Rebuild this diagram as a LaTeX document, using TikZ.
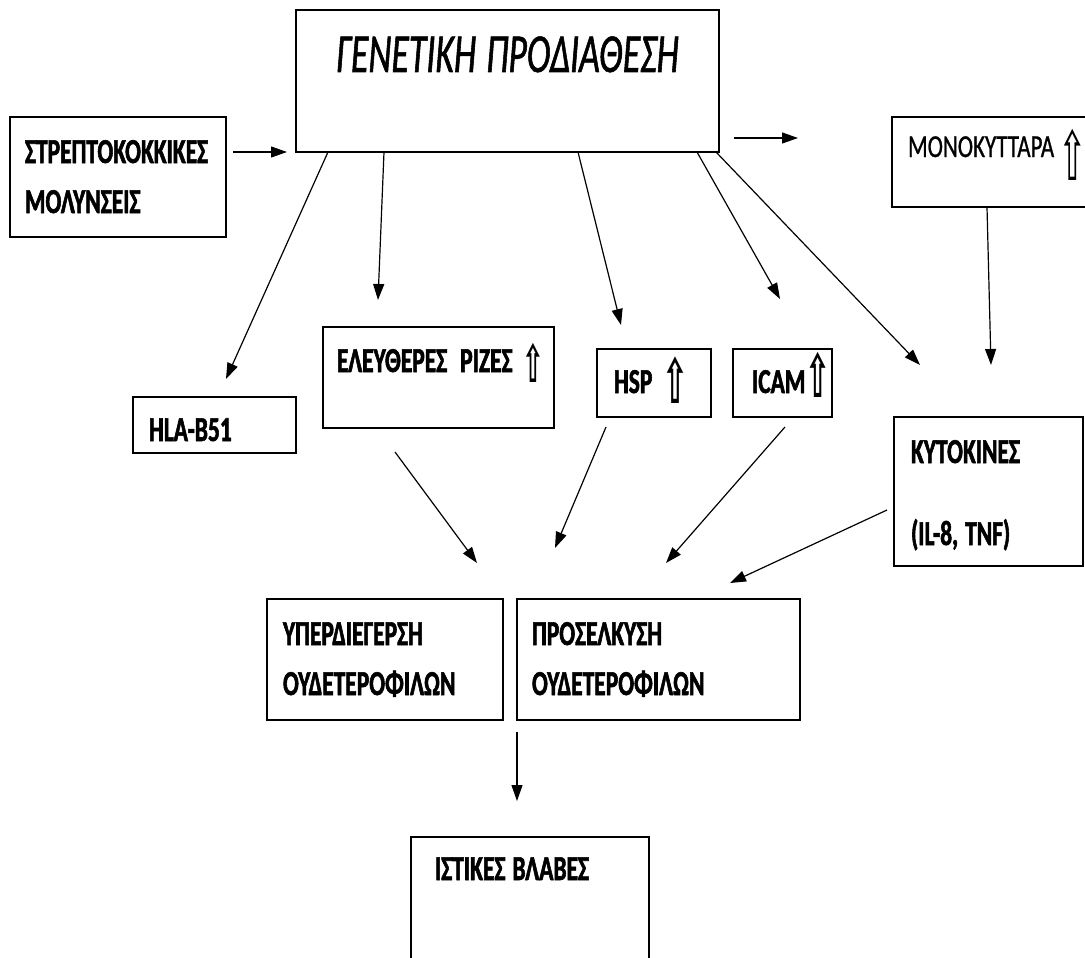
\documentclass[tikz,border=0pt]{standalone}
\usepackage{fontspec}
\usetikzlibrary{positioning, arrows.meta, calc}
\newfontfamily\boxfont{Carlito}[FakeStretch=0.67, FakeBold=1.6]
\newfontfamily\plainfont{Carlito}[FakeStretch=0.72, FakeBold=0.8]
\newfontfamily\titlefont{Carlito}[FakeStretch=0.65, FakeBold=1.0]
\newfontfamily\uparrowfont{DejaVu Sans}[FakeStretch=0.5]
\newcommand{\upar}[2]{\raisebox{#2}{\uparrowfont\fontsize{#1}{#1}\selectfont ⇧}}
\newcommand{\wordgap}[1]{\spaceskip=#1\relax}

\begin{document}
\begin{tikzpicture}[x=1pt, y=-1pt,
    box/.style={draw, line width=1.4pt, anchor=north west, align=flush left,
      inner xsep=15pt, inner ysep=0pt, outer sep=0pt,
      font=\boxfont\bfseries\fontsize{35pt}{50pt}\selectfont\wordgap{7pt}},
    arr/.style={line width=1.2pt, -{Triangle[length=16pt, width=11pt]}},
  ]
  \useasboundingbox (0,0) rectangle (1085,958);

  % top row
  \node[box, align=flush center, inner xsep=0pt, text width=423pt, text height=62pt, text depth=80pt,
        font=\titlefont\itshape\fontsize{55pt}{60pt}\selectfont\wordgap{10pt}] (gen) at (296,10)
       {ΓΕΝΕΤΙΚΗ ΠΡΟΔΙΑΘΕΣΗ};
  \node[box, text width=186pt, text height=46pt, text depth=74pt] (strep) at (10,117)
       {ΣΤΡΕΠΤΟΚΟΚΚΙΚΕΣ\\ΜΟΛΥΝΣΕΙΣ};
  \node[box, inner xsep=16pt, text width=176pt, text height=40pt, text depth=50pt,
        font=\plainfont\fontsize{32pt}{40pt}\selectfont] (monok) at (892,117)
       {ΜΟΝΟΚΥΤΤΑΡΑ\hspace*{4pt}\upar{68pt}{-24pt}};

  % middle row
  \node[box, inner xsep=16pt, text width=131pt, text height=44pt, text depth=12pt] (hla) at (133,397)
       {HLA-B51};
  \node[box, inner xsep=14pt, text width=203pt, text height=45pt, text depth=56pt] (eleft) at (323,327)
       {ΕΛΕΥΘΕΡΕΣ\hspace*{13pt}ΡΙΖΕΣ\hspace*{10pt}\upar{52pt}{-10pt}};
  \node[box, inner xsep=17pt, text width=80pt, text height=44pt, text depth=24pt] (hsp) at (597,349)
       {HSP\hspace*{10pt}\upar{62pt}{-10pt}};
  \node[box, inner xsep=19pt, text width=61pt, text height=44pt, text depth=24pt] (icam) at (733,349)
       {ICAM\upar{60pt}{-4pt}};
  \node[box, inner xsep=17pt, text width=155pt, text height=46pt, text depth=103pt] (kyt) at (894,417)
       {ΚΥΤΟΚΙΝΕΣ\\[32pt](IL-8, TNF)};

  % bottom rows
  \node[box, inner xsep=16pt, text width=204pt, text height=46pt, text depth=75pt] (yperd) at (267,599)
       {ΥΠΕΡΔΙΕΓΕΡΣΗ\\ΟΥΔΕΤΕΡΟΦΙΛΩΝ};
  \node[box, text width=253pt, text height=46pt, text depth=75pt] (prosel) at (517,599)
       {ΠΡΟΣΕΛΚΥΣΗ\\ΟΥΔΕΤΕΡΟΦΙΛΩΝ};
  \node[box, inner xsep=24pt, text width=190pt, text height=43pt, text depth=150pt] (ist) at (411,837)
       {ΙΣΤΙΚΕΣ ΒΛΑΒΕΣ};

  % arrow tips
  \coordinate (tGen)  at ([shift={(-9,0)}]gen.south west);
  \coordinate (tFree) at ([shift={(79,-14)}]gen.south east);
  \coordinate (tHla)  at ([shift={(93,-18)}]hla.north west);
  \coordinate (tEleft) at ([shift={(55,-27)}]eleft.north west);
  \coordinate (tHsp)  at ([shift={(24,-24)}]hsp.north west);
  \coordinate (tIcam) at ([shift={(47,-50)}]icam.north west);
  \coordinate (tKytA) at ([shift={(26,-52)}]kyt.north west);
  \coordinate (tKytB) at ([shift={(97,-52)}]kyt.north west);
  \coordinate (tYperd) at ([shift={(210,-36)}]yperd.north west);
  \coordinate (tProsA) at ([shift={(38,-51)}]prosel.north west);
  \coordinate (tProsB) at ([shift={(149,-36)}]prosel.north west);
  \coordinate (tProsC) at ([shift={(213,-16)}]prosel.north west);
  \coordinate (tIst)  at ([shift={(106,-36)}]ist.north west);

  % connectors
  \draw[arr] ([shift={(7,-25)}]strep.east) -- (tGen);
  \draw[arr] ([shift={(15,-14)}]gen.south east) -- (tFree);
  \draw[arr] ([xshift=32pt]gen.south west) -- (tHla);
  \draw[arr] ([xshift=88pt]gen.south west) -- (tEleft);
  \draw[arr] ([xshift=282pt]gen.south west) -- (tHsp);
  \draw[arr] ([xshift=401pt]gen.south west) -- (tIcam);
  \draw[arr] ([xshift=-3pt]gen.south east) -- (tKytA);
  \draw[arr] ([xshift=95pt]monok.south west) -- (tKytB);
  \draw[arr] ([shift={(72,24)}]eleft.south west) -- (tYperd);
  \draw[arr] ([shift={(9,10)}]hsp.south west) -- (tProsA);
  \draw[arr] ([shift={(52,10)}]icam.south west) -- (tProsB);
  \draw[arr] ([shift={(-7,93)}]kyt.north west) -- (tProsC);
  \draw[arr] ([yshift=-12pt]prosel.south west) -- (tIst);
\end{tikzpicture}
\end{document}
